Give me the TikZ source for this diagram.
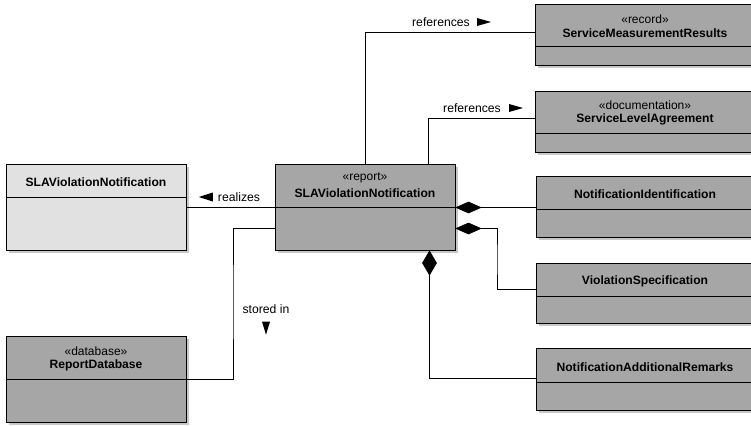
\documentclass[tikz,border=0pt]{standalone}
\usepackage{fontspec}
\setmainfont{Liberation Sans}
\begin{document}
\definecolor{classfill}{RGB}{166,166,166}
\definecolor{specfill}{RGB}{225,225,225}
\definecolor{shadowgray}{RGB}{200,200,200}
\tikzset{
  classbox/.style={draw=black, line width=1pt, inner sep=0pt, anchor=north west},
  conn/.style={draw=black, line width=1pt},
  stereo/.style={font=\fontsize{12}{13}\selectfont, inner sep=0pt},
  cname/.style={font=\bfseries\fontsize{12.1}{13}\selectfont, inner sep=0pt},
  lbl/.style={font=\fontsize{12.2}{13}\selectfont, inner sep=0pt},
  headtip/.style={fill=black},
  compo/.style={fill=black, draw=black, line width=0.6pt},
}
% #1 name, #2 x, #3 y, #4 width, #5 height, #6 header height, #7 fill
\newcommand\umlclass[7]{%
  \fill[shadowgray] (#2+3,#3+3) rectangle ++(#4,#5);
  \node[classbox, fill=#7, minimum width=#4pt, minimum height=#5pt] (#1) at (#2,#3) {};
  \draw[line width=1pt] (#1.north west) ++(0,#6) -- ++(#4,0);
}
\begin{tikzpicture}[x=1pt, y=-1pt]
\useasboundingbox (0,0) rectangle (751,425);
\clip (0,0) rectangle (751,425);

% classes
\umlclass{smr}{535}{4}{219}{61}{43}{classfill}
\umlclass{sla}{535}{91}{219}{61}{42}{classfill}
\umlclass{nid}{536}{176}{219}{61}{33}{classfill}
\umlclass{vsp}{536}{263}{219}{60}{33}{classfill}
\umlclass{nar}{536}{348}{219}{62}{34}{classfill}
\umlclass{spec}{6}{164}{180}{86}{33}{specfill}
\umlclass{report}{275}{164}{180}{86}{43}{classfill}
\umlclass{db}{6}{336}{180}{86}{43}{classfill}

% class headers
\node[stereo] (smr-st) at (645,19) {«record»};
\node[cname]  (smr-nm) at (645,33) {ServiceMeasurementResults};
\node[stereo] (sla-st) at (645,105) {«documentation»};
\node[cname]  (sla-nm) at (645,119) {ServiceLevelAgreement};
\node[cname]  (nid-nm) at (645,194) {NotificationIdentification};
\node[cname]  (vsp-nm) at (645,281) {ViolationSpecification};
\node[cname]  (nar-nm) at (645,367) {NotificationAdditionalRemarks};
\node[cname]  (spec-nm) at (96,182) {SLAViolationNotification};
\node[stereo] (rep-st) at (365,178) {«report»};
\node[cname]  (rep-nm) at (365,193) {SLAViolationNotification};
\node[stereo] (db-st) at (96,351) {«database»};
\node[cname]  (db-nm) at (96,365) {ReportDatabase};

% references
\draw[conn] (report.north) |- (smr.west |- 0,33);
\draw[conn] ([xshift=63pt]report.north) |- (sla.west |- 0,118);
\node[lbl] (ref1) at (441,22) {references};
\fill[headtip] ([xshift=7pt]ref1.east) ++(0,-4) -- ++(14,4) -- ++(-14,4) -- cycle;
\node[lbl] (ref2) at (472,108) {references};
\fill[headtip] ([xshift=8pt]ref2.east) ++(0,-4) -- ++(14,4) -- ++(-14,4) -- cycle;

% realizes
\draw[conn] (report.west) -- (spec.east);
\node[lbl] (real) at (239,197) {realizes};
\fill[headtip] ([xshift=-5pt]real.west) ++(0,-4.5) -- ++(-14,4.5) -- ++(14,4.5) -- cycle;

% stored in
\draw[conn] ([yshift=-21pt]report.west) -| (233,300) |- (db.east);
\node[lbl] (stor) at (266,309) {stored in};
\fill[headtip] ([yshift=-8pt]stor.south) ++(-4,0) -- ++(8,0) -- ++(-4,13) -- cycle;

% compositions
\draw[conn] (report.east) -- (nid.west |- report.east);
\filldraw[compo] (report.east) -- ++(12.5,-5.5) -- ++(12.5,5.5) -- ++(-12.5,5.5) -- cycle;
\draw[conn] ([yshift=-21pt]report.east) -| (497,260) |- (vsp.west |- 0,289);
\filldraw[compo] ([yshift=-21pt]report.east) -- ++(12.5,-5.5) -- ++(12.5,5.5) -- ++(-12.5,5.5) -- cycle;
\draw[conn] ([xshift=64pt]report.south) |- (nar.west |- 0,378);
\filldraw[compo] ([xshift=64pt]report.south) -- ++(-7,12) -- ++(7,12) -- ++(7,-12) -- cycle;
\end{tikzpicture}
\end{document}
